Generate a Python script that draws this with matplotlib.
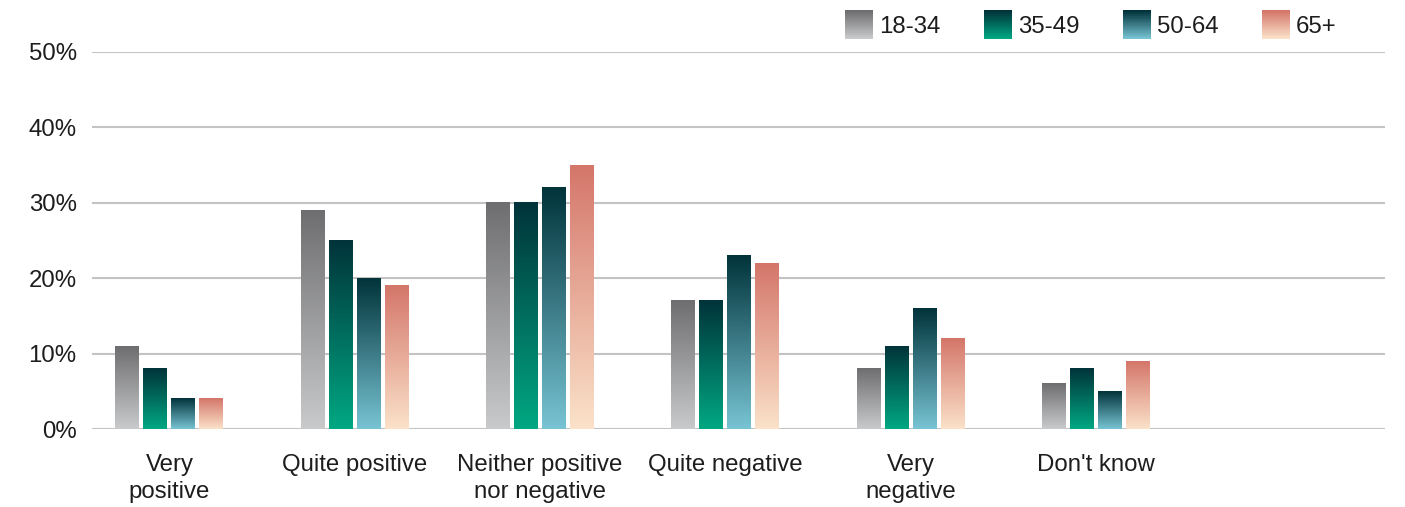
import numpy as np
import matplotlib
matplotlib.use("Agg")
import matplotlib.pyplot as plt
from matplotlib.colors import LinearSegmentedColormap, to_rgb
from matplotlib.patches import Rectangle
from matplotlib.legend_handler import HandlerBase

plt.rcParams['font.family'] = ['Liberation Sans', 'DejaVu Sans']

categories = ["Very\npositive", "Quite positive", "Neither positive\nnor negative",
              "Quite negative", "Very\nnegative", "Don't know", ""]
series_names = ["18-34", "35-49", "50-64", "65+"]
v_18_34 = [11, 29, 30, 17, 8, 6]
v_35_49 = [8, 25, 30, 17, 11, 8]
v_50_64 = [4, 20, 32, 23, 16, 5]
v_65 = [4, 19, 35, 22, 12, 9]
y_ticks = [0, 10, 20, 30, 40, 50]
y_tick_labels = ["0%", "10%", "20%", "30%", "40%", "50%"]

values = [v_18_34, v_35_49, v_50_64, v_65]
# (top colour, bottom colour)
gradients = [("#6e6e70", "#c9cacc"),
             ("#01333a", "#00a882"),
             ("#01333a", "#78c4d4"),
             ("#d4766a", "#fbe2c9")]

W, H = 1405, 507
fig = plt.figure(figsize=(W / 100, H / 100), dpi=100)
ax = fig.add_axes([92 / W, 1 - 429 / H, (1385 - 92) / W, (429 - 52) / H])

grid_color = "#c3c3c3"
text_color = "#1d1d1d"
fs = 17.3

bar_w = 24 / 185.3
step = 28 / 185.3
x = np.arange(len(categories))

grad = np.linspace(1, 0, 256).reshape(-1, 1)
for i, (vals, (top, bot)) in enumerate(zip(values, gradients)):
    cmap = LinearSegmentedColormap.from_list(f"g{i}", [bot, top])
    offs = (i - 1.5) * step
    bars = ax.bar(x[:len(vals)] + offs, vals, width=bar_w, color="none",
                  edgecolor="none", zorder=3)
    for b in bars:
        x0, y0 = b.get_x(), b.get_y()
        w, h = b.get_width(), b.get_height()
        ax.imshow(grad, cmap=cmap, aspect="auto", extent=(x0, x0 + w, y0, y0 + h),
                  origin="upper", zorder=3, interpolation="bilinear")

ax.set_xlim(-0.418, 6.56)
ax.set_ylim(0, 50)
ax.set_yticks(y_ticks)
ax.set_yticklabels(y_tick_labels)
ax.set_xticks(x)
ax.set_xticklabels(categories, linespacing=1.31, va="top")
ax.tick_params(axis="both", length=0, labelsize=fs, colors=text_color)
ax.tick_params(axis="y", pad=11)
ax.tick_params(axis="x", pad=18)
ax.yaxis.grid(True, color=grid_color, linewidth=1.5, zorder=0)
ax.set_axisbelow(True)
for s in ax.spines.values():
    s.set_visible(False)


class GradHandler(HandlerBase):
    def __init__(self, top, bot):
        super().__init__()
        self.top = np.array(to_rgb(top))
        self.bot = np.array(to_rgb(bot))

    def create_artists(self, legend, orig_handle, xdescent, ydescent, width, height,
                       fontsize, trans):
        n = 40
        arts = []
        for k in range(n):
            t = k / (n - 1)
            c = self.bot * (1 - t) + self.top * t
            r = Rectangle((-xdescent, -ydescent + height * k / n), width, height / n + 0.3,
                          facecolor=c, edgecolor="none", transform=trans)
            arts.append(r)
        return arts


handles = [Rectangle((0, 0), 1, 1) for _ in series_names]
hmap = {h: GradHandler(t, b) for h, (t, b) in zip(handles, gradients)}
fig.legend(handles, series_names, handler_map=hmap, ncol=4, frameon=False,
           loc="upper right", bbox_to_anchor=(1353 / W, 1 + 6 / H), fontsize=fs,
           handlelength=1.167, handleheight=1.42, handletextpad=0.25,
           columnspacing=1.8, borderpad=0.2, labelcolor=text_color)

fig.savefig("out.png", dpi=100, facecolor="white")
